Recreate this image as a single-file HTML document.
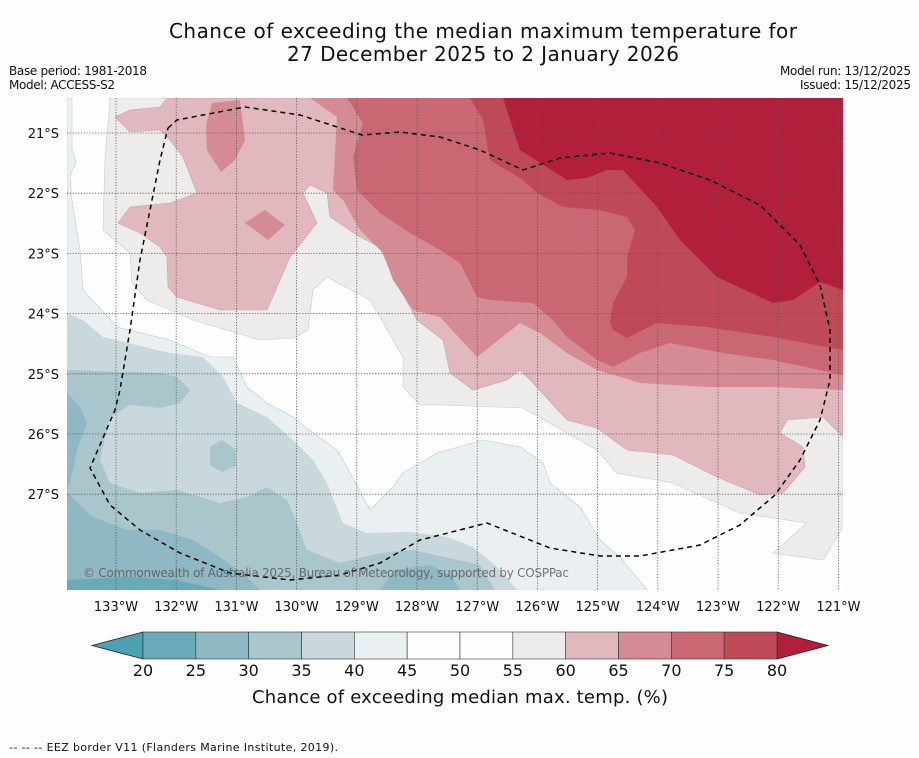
<!DOCTYPE html>
<html><head><meta charset="utf-8"><style>
html,body{margin:0;padding:0;background:#fdfdfd;}
svg{display:block;font-family:"DejaVu Sans","Liberation Sans",sans-serif;}
</style></head><body>
<svg id="chart" width="919" height="758" viewBox="0 0 919 758" xmlns="http://www.w3.org/2000/svg">
<rect width="919" height="758" fill="#fdfdfd"/>
<text x="483" y="38" font-size="20" text-anchor="middle" fill="#111" textLength="628">Chance of exceeding the median maximum temperature for</text>
<text x="483" y="61" font-size="20" text-anchor="middle" fill="#111" textLength="392">27 December 2025 to 2 January 2026</text>
<text x="9" y="75" font-size="12" fill="#111" textLength="138">Base period: 1981-2018</text>
<text x="9" y="89" font-size="12" fill="#111" textLength="106">Model: ACCESS-S2</text>
<text x="780" y="75" font-size="12" fill="#111" textLength="131">Model run: 13/12/2025</text>
<text x="800" y="89" font-size="12" fill="#111" textLength="111">Issued: 15/12/2025</text>

<defs><clipPath id="mapclip"><rect x="67" y="98" width="776" height="492"/></clipPath></defs>
<g clip-path="url(#mapclip)" stroke-width="0.6">
<rect x="67" y="98" width="776" height="492" fill="#fefefe"/>
<polygon fill="#eeeceb" stroke="#c8ccd0" points="110,98 110,100 105,157 103,230 130,253 132,283 147,300 193,320 260,340 293,338 308,330 313,290 327,277 370,300 403,357 403,387 420,405 440,405 523,408 597,450 617,473 673,483 740,513 807,523 773,553 823,560 843,527 843,98"/>
<polygon fill="#e1b8bd" stroke="#cfa0a6" points="167,98 160,107 130,110 115,117 130,132 160,130 170,140 183,157 197,193 170,203 130,207 118,223 140,233 160,247 167,257 168,287 177,297 220,310 267,310 290,257 317,223 303,193 310,185 327,193 330,217 360,237 380,247 390,270 417,320 443,340 450,373 473,390 507,380 520,370 533,383 567,420 597,428 627,450 673,455 717,477 760,495 783,493 805,467 803,447 780,433 787,420 823,417 843,437 843,98"/>
<polygon fill="#d48b94" points="212,103 240,100 245,140 235,160 221,172 207,150 206,125"/>
<polygon fill="#d48b94" points="245,223 265,210 285,225 268,240"/>
<polygon fill="#d48b94" points="310,98 337,117 333,190 343,200 360,230 383,253 393,280 413,310 440,317 477,357 520,323 540,333 567,353 597,370 640,383 707,387 773,387 843,390 843,98"/>
<polygon fill="#c96872" points="347,98 363,123 353,157 357,190 380,213 410,233 440,250 460,263 477,297 490,300 533,303 553,320 567,337 597,360 613,367 640,353 670,343 723,353 773,360 843,375 843,98"/>
<polygon fill="#bf4a57" points="470,98 483,120 490,160 523,180 537,193 563,207 600,210 627,217 635,230 627,257 627,277 613,303 610,323 613,330 627,338 657,323 707,327 773,337 843,350 843,98"/>
<polygon fill="#b11f3a" points="503,98 520,150 567,180 587,178 607,170 623,170 657,207 680,240 717,277 773,303 793,300 820,282 843,290 843,98"/>
<polygon fill="#eaf0f2" stroke="#b8cdd3" points="67,98 72,98 72,150 76,162 70,176 72,200 80,250 83,290 117,327 170,340 210,357 233,357 247,387 267,403 293,417 313,433 337,450 347,467 370,510 393,487 403,473 437,453 483,440 520,447 543,463 550,483 580,507 600,540 620,557 647,590 67,590"/>
<polygon fill="#c8d8dc" points="67,313 83,320 103,337 170,353 203,357 223,377 237,403 267,417 293,440 313,460 327,483 343,523 367,533 410,532 447,537 473,547 497,567 517,590 67,590"/>
<polygon fill="#a9c6cc" points="67,370 160,373 177,377 190,390 180,403 160,408 130,405 110,417 100,460 110,483 140,493 177,490 220,503 247,497 267,487 287,500 297,523 307,550 340,563 380,553 413,550 480,565 495,590 67,590"/>
<polygon fill="#a9c6cc" points="210,447 222,440 236,450 236,466 222,472 210,465"/>
<polygon fill="#8db8c4" points="67,393 80,407 87,423 77,450 70,483 67,490"/>
<polygon fill="#8db8c4" points="67,493 93,517 127,530 160,530 193,540 220,557 247,577 260,590 67,590"/>
<polygon fill="#8db8c4" points="380,590 395,570 430,565 450,575 460,590"/>
<polygon fill="#6aaab8" points="67,580 127,577 177,580 220,590 67,590"/>
<g id="grid" stroke="#555" stroke-width="0.8" stroke-dasharray="1.2,1.6" fill="none"></g>
<polyline fill="none" stroke="#000" stroke-width="1.5" stroke-dasharray="5,4" points="168,128 177,120 245,107 300,115 362,135 400,132 440,137 480,150 523,170 560,158 610,153 660,163 710,180 760,205 800,245 820,285 830,330 830,380 820,420 800,460 775,495 740,525 700,545 640,556 600,556 550,548 487,523 440,535 420,540 380,563 340,575 290,580 230,573 180,553 140,530 110,505 90,468 115,410 120,390 130,330 140,260 160,160 168,128"/>
<text x="83" y="577" font-size="12" fill="#555" fill-opacity="0.8" textLength="486">© Commonwealth of Australia 2025, Bureau of Meteorology, supported by COSPPac</text>
</g>
<g id="axes" font-size="13" fill="#111"></g>
<g id="cbar"></g>
<text x="460" y="703" font-size="18" text-anchor="middle" fill="#111" textLength="416">Chance of exceeding median max. temp. (%)</text>
<text x="9" y="751" font-size="11" fill="#111" textLength="329">--  --  -- EEZ border V11 (Flanders Marine Institute, 2019).</text>
</svg>
<script>
const lonTicks = [133,132,131,130,129,128,127,126,125,124,123,122,121];
const latTicks = [21,22,23,24,25,26,27];
const cbLevels = [20,25,30,35,40,45,50,55,60,65,70,75,80];
const cbColors = ["#6aaab8","#8db8c4","#a9c6cc","#c8d8dc","#eaf0f2","#fefefe","#fefefe","#eeeceb","#e1b8bd","#d48b94","#c96872","#bf4a57"];
const NS="http://www.w3.org/2000/svg";
const xLon = v => 116 + (133 - v) * 60.2;
const yLat = v => 133 + (v - 21) * 60.2;
const grid=document.getElementById('grid'), axes=document.getElementById('axes'), cbar=document.getElementById('cbar');
function mk(tag, attrs){const e=document.createElementNS(NS,tag);for(const k in attrs)e.setAttribute(k,attrs[k]);return e;}
lonTicks.forEach(v=>{
  const x=xLon(v);
  const l=mk('line',{x1:x,y1:98,x2:x,y2:590});
  
  
  grid.appendChild(l);
  const t=mk('text',{x:x,y:611,'text-anchor':'middle'});
  
  
  t.textContent=v+'°W';axes.appendChild(t);
});
latTicks.forEach(v=>{
  const y=yLat(v);
  const l=mk('line',{x1:67,y1:y,x2:843,y2:y});
  
  
  grid.appendChild(l);
  const t=mk('text',{x:59,y:y+5,'text-anchor':'end'});
  
  
  t.textContent=v+'°S';axes.appendChild(t);
});
const cx0=143, cx1=777, cy0=632, cy1=659;
const cw=(cx1-cx0)/(cbLevels.length-1);
const lt=mk('polygon',{points:`92,${(cy0+cy1)/2} ${cx0},${cy0} ${cx0},${cy1}`,fill:'#4aa3b3',stroke:'#222','stroke-width':0.8});


cbar.appendChild(lt);
const rt=mk('polygon',{points:`828,${(cy0+cy1)/2} ${cx1},${cy0} ${cx1},${cy1}`,fill:'#b11f3a',stroke:'#222','stroke-width':0.8});


cbar.appendChild(rt);
cbColors.forEach((c,i)=>{
  const r=mk('rect',{x:cx0+i*cw,y:cy0,width:cw,height:cy1-cy0,fill:c,stroke:'#333','stroke-width':0.6});
  
  
  cbar.appendChild(r);
});
cbLevels.forEach((v,i)=>{
  const t=mk('text',{x:cx0+i*cw,y:676,'text-anchor':'middle','font-size':16,fill:'#111'});
  
  
  t.textContent=v;cbar.appendChild(t);
});
</script>
</body></html>
